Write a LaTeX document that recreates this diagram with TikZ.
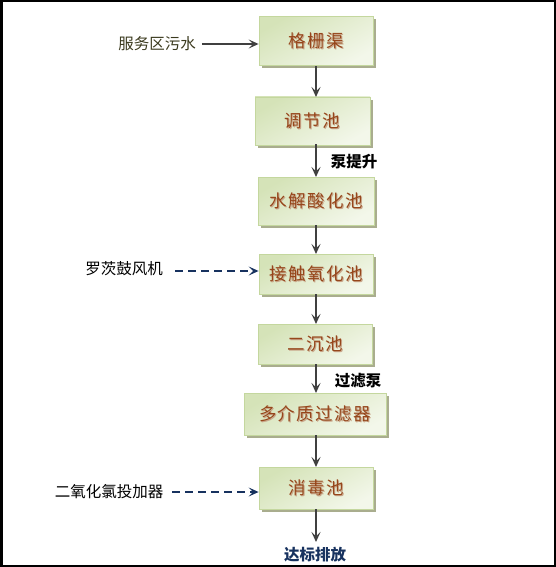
\documentclass[tikz,border=0pt]{standalone}
\usepackage{fontspec}
\newfontfamily\cjk{Noto Sans CJK SC}
\newfontfamily\cjkls{Noto Sans CJK SC}[LetterSpace=8]
\usetikzlibrary{arrows.meta,shadows}
\definecolor{boxA}{HTML}{D5E3B8}
\definecolor{boxB}{HTML}{F3F7EA}
\definecolor{boxline}{HTML}{C4D79E}
\definecolor{shadowc}{HTML}{A9AD8E}
\definecolor{txtbrown}{HTML}{96461B}
\definecolor{txtshade}{HTML}{C9A68A}
\definecolor{arrowc}{HTML}{404040}
\definecolor{navy}{HTML}{17325F}
\definecolor{olive}{HTML}{3B3A1E}
\newcommand\shtxt[1]{\rlap{\raisebox{-1pt}{\kern1pt\textcolor{txtshade}{#1}}}#1}
\begin{document}
\begin{tikzpicture}[x=1pt,y=-1pt,
  procbox/.style={draw=boxline, line width=0.8pt, top color=boxA, bottom color=boxB, shading angle=30,
    minimum height=46pt, inner sep=0pt, font=\cjkls\fontsize{17.5}{17.5}\selectfont, text=txtbrown,
    drop shadow={shadow xshift=3pt, shadow yshift=-3pt, fill=shadowc, opacity=1}},
  flow/.style={draw=arrowc, line width=1.8pt, -{Stealth[length=10pt,width=9pt,inset=4.5pt]}},
  feed/.style={draw=navy, line width=1.5pt, dash pattern=on 8pt off 5pt, -{Stealth[length=10pt,width=9pt,inset=4.5pt]}},
  sidelbl/.style={font=\cjk\fontsize{15.5}{15.5}\selectfont, inner sep=0pt},
  pumplbl/.style={font=\cjk\bfseries\fontsize{15.5}{15.5}\selectfont, inner sep=0pt}]
\useasboundingbox (0,0) rectangle (556,567);
\fill[white] (0,0) rectangle (556,567);
\draw[black, line width=2.5pt] (1.25,1.25) rectangle (554.75,565.75);

\node[procbox, minimum width=114pt, minimum height=49pt] (b1) at (316,41) {\shtxt{格栅渠}};
\node[procbox, minimum width=115pt, minimum height=48pt] (b2) at (312.5,121) {\shtxt{调节池}};
\node[procbox, minimum width=116pt, minimum height=48pt] (b3) at (316,201) {\shtxt{水解酸化池}};
\node[procbox, minimum width=114pt, minimum height=40pt] (b4) at (316,274) {\shtxt{接触氧化池}};
\node[procbox, minimum width=114pt, minimum height=40pt] (b5) at (315,344) {\shtxt{二沉池}};
\node[procbox, minimum width=142pt, minimum height=42pt] (b6) at (315,414) {\shtxt{多介质过滤器}};
\node[procbox, minimum width=114pt, minimum height=42pt] (b7) at (316,488) {\shtxt{消毒池}};

\node[sidelbl, text=olive] (in1) at (157,44) {服务区污水};
\node[sidelbl] (in2) at (124,269) {罗茨鼓风机};
\node[sidelbl] (in3) at (109,492) {二氧化氯投加器};
\node[pumplbl] (p1) at (354,162) {泵提升};
\node[pumplbl] (p2) at (358,381) {过滤泵};
\node[pumplbl, text=navy] (out) at (315,554.5) {达标排放};
\coordinate (outtop) at (316,542);

\draw[flow] (316,66) -- (316,97);
\draw[flow] (316,144) -- (316,177);
\draw[flow] (316,225) -- (316,254);
\draw[flow] (316,294) -- (316,324);
\draw[flow] (316,364) -- (316,393);
\draw[flow] (316,435) -- (316,467);
\draw[flow] (316,509) -- (outtop);

\draw[flow] (in1.east) ++(6,0) -- (b1.west |- in1.east);
\draw[feed] (175,271) -- (b4.west |- 0,271);
\draw[feed] (172,492) -- (b7.west |- 0,492);
\end{tikzpicture}
\end{document}
